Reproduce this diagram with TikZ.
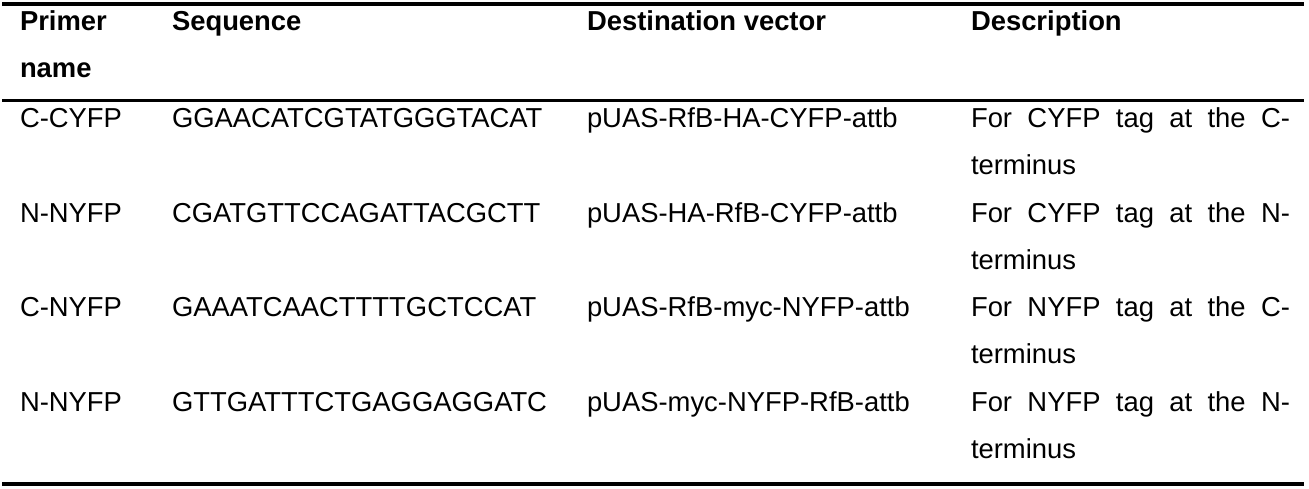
\documentclass[tikz,border=0pt]{standalone}
\usepackage{fontspec}
\setmainfont{Liberation Sans}
\begin{document}
\begin{tikzpicture}[x=1pt,y=1pt,
  cell/.style={anchor=base west,inner sep=0pt,outer sep=0pt,font=\fontsize{27.4}{47.3}\selectfont,text=black},
  head/.style={cell,font=\fontsize{27.4}{47.3}\selectfont\bfseries},
  rulethick/.style={line width=4pt,black},
  rulethin/.style={line width=3pt,black}]
\useasboundingbox (0,0) rectangle (1309,-488);
% rules
\coordinate (t1) at (2,-4);   \coordinate (t2) at (1304,-4);
\coordinate (m1) at (2,-100.5); \coordinate (m2) at (1304,-100.5);
\coordinate (b1) at (2,-484); \coordinate (b2) at (1304,-484);
\draw[rulethick] (t1) -- (t2);
\draw[rulethin] (m1) -- (m2);
\draw[rulethick] (b1) -- (b2);
% header
\node[head] (h1a) at (20,-30.5) {Primer};
\node[head] (h1b) at (20,-77.5) {name};
\node[head] (h2) at (172,-30.5) {Sequence};
\node[head] (h3) at (587,-30.5) {Destination vector};
\node[head] (h4) at (971,-30.5) {Description};
% row 1
\node[cell] (r1c1) at (20,-127) {C-CYFP};
\node[cell] (r1c2) at (172,-127) {GGAACATCGTATGGGTACAT};
\node[cell] (r1c3) at (587,-127) {pUAS-RfB-HA-CYFP-attb};
\node[cell] (r1c4a) at (971,-127) {\makebox[319pt][s]{For CYFP tag at the C-}};
\node[cell] (r1c4b) at (971,-174) {terminus};
% row 2
\node[cell] (r2c1) at (20,-222) {N-NYFP};
\node[cell] (r2c2) at (172,-222) {CGATGTTCCAGATTACGCTT};
\node[cell] (r2c3) at (587,-222) {pUAS-HA-RfB-CYFP-attb};
\node[cell] (r2c4a) at (971,-222) {\makebox[319pt][s]{For CYFP tag at the N-}};
\node[cell] (r2c4b) at (971,-269) {terminus};
% row 3
\node[cell] (r3c1) at (20,-316.5) {C-NYFP};
\node[cell] (r3c2) at (172,-316.5) {GAAATCAACTTTTGCTCCAT};
\node[cell] (r3c3) at (587,-316.5) {pUAS-RfB-myc-NYFP-attb};
\node[cell] (r3c4a) at (971,-316.5) {\makebox[319pt][s]{For NYFP tag at the C-}};
\node[cell] (r3c4b) at (971,-363.5) {terminus};
% row 4
\node[cell] (r4c1) at (20,-411.5) {N-NYFP};
\node[cell] (r4c2) at (172,-411.5) {GTTGATTTCTGAGGAGGATC};
\node[cell] (r4c3) at (587,-411.5) {pUAS-myc-NYFP-RfB-attb};
\node[cell] (r4c4a) at (971,-411.5) {\makebox[319pt][s]{For NYFP tag at the N-}};
\node[cell] (r4c4b) at (971,-458.5) {terminus};
\end{tikzpicture}
\end{document}
